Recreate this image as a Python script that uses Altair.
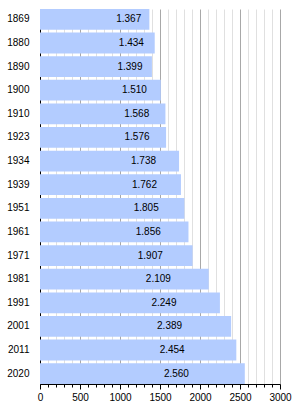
import altair as alt
import pandas as pd

years = ["1869", "1880", "1890", "1900", "1910", "1923", "1934", "1939",
         "1951", "1961", "1971", "1981", "1991", "2001", "2011", "2020"]
population = [1367, 1434, 1399, 1510, 1568, 1576, 1738, 1762,
              1805, 1856, 1907, 2109, 2249, 2389, 2454, 2560]
x_ticks = list(range(0, 3001, 100))

df = pd.DataFrame({"year": years, "pop": population})

FONT = "Liberation Sans"

x_axis = alt.Axis(
    values=x_ticks,
    title=None,
    format="d",
    labelExpr="datum.value % 500 === 0 ? datum.label : ''",
    labelOverlap=False,
    gridColor={"condition": {"test": "datum.value % 500 === 0", "value": "#a8a8a8"}, "value": "#e0e0e0"},
    tickSize={"condition": {"test": "datum.value % 500 === 0", "value": 5}, "value": 3},
    tickColor="#000",
    domainColor="#000",
    labelFont=FONT,
    labelFontSize=10,
    labelColor="#000",
    labelPadding=3,
    labelFlush=False,
)
y_axis = alt.Axis(title=None, ticks=False, grid=False,
                  domainColor="#000", labelFont=FONT,
                  labelFontSize=10, labelColor="#000",
                  labelPadding=11)
x_scale = alt.Scale(domain=[0, 3000], nice=False)
y_scale = alt.Scale(paddingInner=0.12, paddingOuter=0.0)

base = alt.Chart(df)

bars = base.mark_bar(color="#b3ccff").encode(
    x=alt.X("pop:Q", scale=x_scale, axis=x_axis),
    y=alt.Y("year:N", sort=None, scale=y_scale, axis=y_axis),
)

labels = base.transform_calculate(
    mid="datum.pop / 2",
    lab="replace(format(datum.pop, ','), ',', '.')",
).mark_text(font=FONT, fontSize=10, color="#000", dx=34, align="center", baseline="middle").encode(
    x=alt.X("mid:Q", scale=x_scale, axis=x_axis),
    y=alt.Y("year:N", sort=None, scale=y_scale, axis=y_axis),
    text="lab:N",
)

chart = (bars + labels).properties(
    width=240, height=375,
    autosize=alt.AutoSizeParams(type="none"),
    padding={"left": 40, "top": 9, "right": 20, "bottom": 24},
).configure_view(stroke=None).configure_axis(gridWidth=1)

chart.save("out.html", embed_options={"renderer": "svg", "actions": False})
